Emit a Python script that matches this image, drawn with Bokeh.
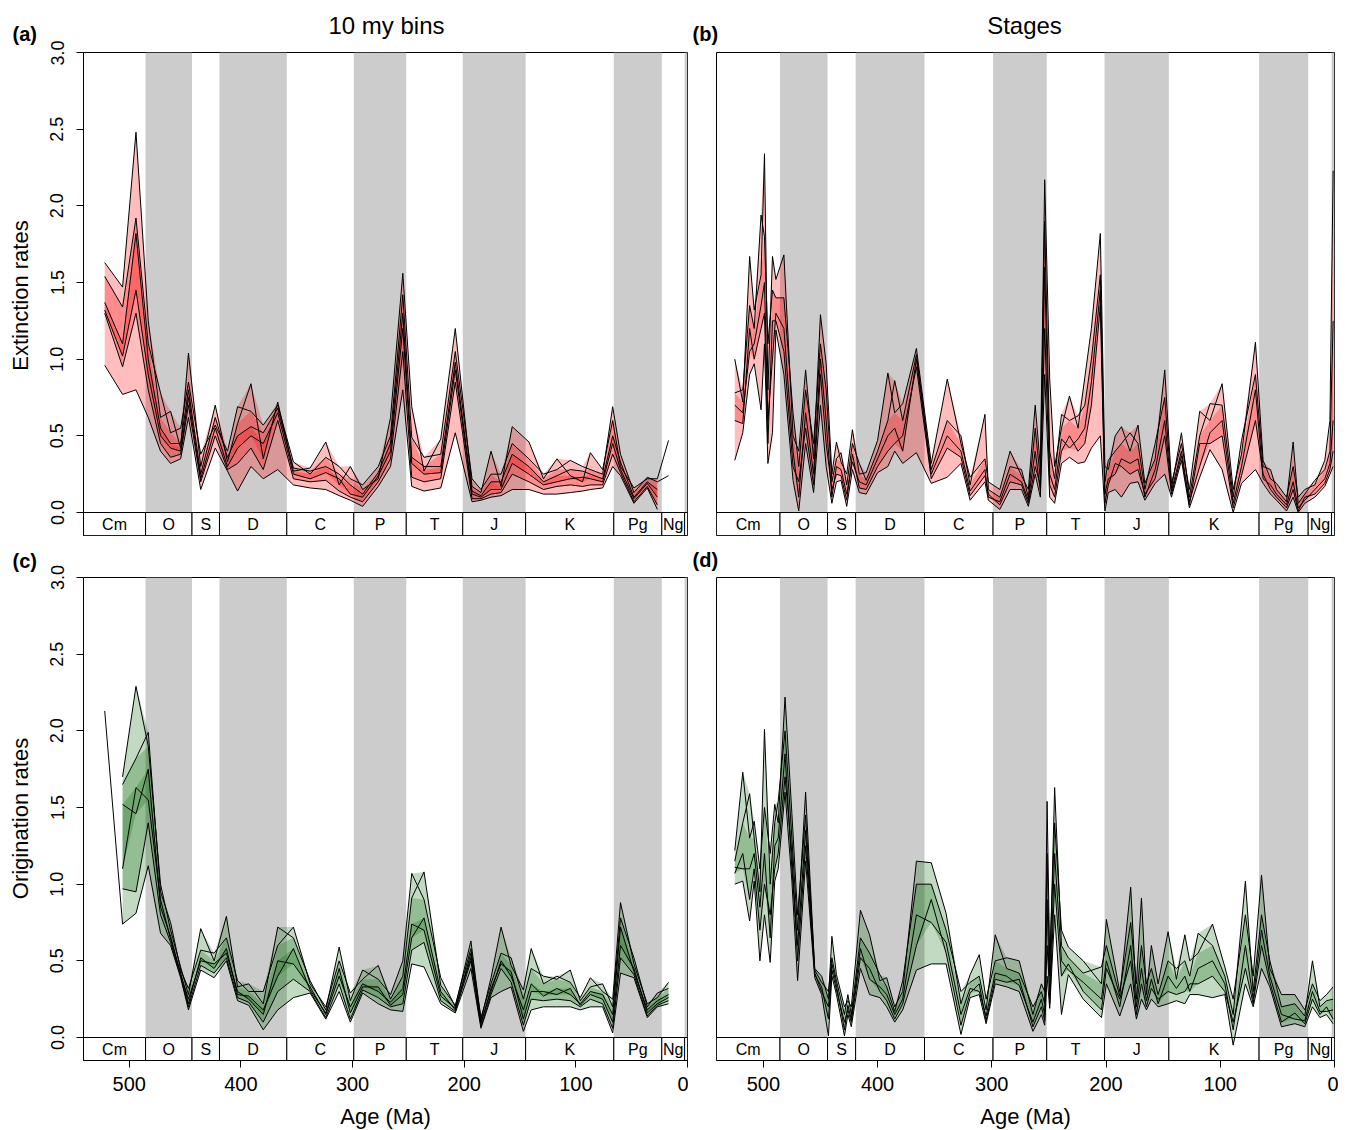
import numpy as np
from bokeh.plotting import figure
from bokeh.models import Range1d, FixedTicker, PrintfTickFormatter
from bokeh.layouts import row, column
from bokeh.core.properties import value
from bokeh.embed import file_html
from bokeh.resources import INLINE

FONT = "Liberation Sans"
nan = float("nan")

# ---------------- geological periods ----------------
period_names = ["Cm", "O", "S", "D", "C", "P", "T", "J", "K", "Pg", "Ng", ""]
period_start = [541.0, 485.4, 443.8, 419.2, 358.9, 298.9, 251.9, 201.3, 145.0, 66.0, 23.03, 2.58]
period_end = [485.4, 443.8, 419.2, 358.9, 298.9, 251.9, 201.3, 145.0, 66.0, 23.03, 2.58, 0.0]
period_shaded = [False, True, False, True, False, True, False, True, False, True, False, True]

y_ticks = [0.0, 0.5, 1.0, 1.5, 2.0, 2.5, 3.0]
x_ticks = [500, 400, 300, 200, 100, 0]

# ---------------- (a) extinction, 10 my bins ----------------
ext_bins_age = [522, 506, 494, 483, 472, 463, 454, 447, 436, 423, 412, 403, 391, 380, 367, 353, 338, 324, 312, 302,
                291, 277, 266, 255, 247, 236, 221, 208, 193, 185, 176, 167, 157, 142, 129, 117, 105, 94, 87, 76,
                67, 60, 48, 36, 27, 17]
ext_bins_r1 = [1.63, 1.47, 2.48, 1.25, 0.62, 0.66, 0.42, 1.04, 0.30, 0.70, 0.33, 0.58, 0.84, 0.35, 0.72, 0.27, 0.29, 0.46, 0.18, 0.30,
               0.15, 0.22, 0.62, 1.56, 0.69, 0.27, 0.48, 1.20, 0.17, 0.13, 0.40, 0.17, 0.56, 0.46, 0.22, 0.35, 0.24, 0.20, 0.39, 0.28,
               0.60, 0.30, 0.16, 0.22, 0.22, 0.47]
ext_bins_r2 = [1.54, 1.34, 1.92, 1.10, 0.78, 0.52, 0.55, 0.85, 0.38, 0.57, 0.40, 0.69, 0.66, 0.57, 0.70, 0.33, 0.25, 0.36, 0.30, 0.22,
               0.18, 0.30, 0.50, 1.42, 0.49, 0.36, 0.38, 1.05, 0.22, 0.15, 0.25, 0.25, 0.45, 0.35, 0.25, 0.28, 0.34, 0.30, 0.28, 0.25,
               0.69, 0.38, 0.13, 0.23, 0.20, 0.24]
ext_bins_r3 = [1.37, 1.10, 1.82, 1.00, 0.55, 0.45, 0.45, 0.80, 0.25, 0.62, 0.36, 0.50, 0.56, 0.52, 0.68, 0.29, 0.27, 0.30, 0.25, 0.18,
               0.12, 0.26, 0.45, 1.30, 0.36, 0.30, 0.30, 0.98, 0.14, 0.11, 0.20, 0.20, 0.38, 0.30, 0.20, 0.24, 0.28, 0.27, 0.25, 0.22,
               0.50, 0.33, 0.10, 0.20, 0.15, nan]
ext_bins_r4 = [1.32, 1.02, 1.45, 0.90, 0.50, 0.42, 0.40, 0.75, 0.22, 0.55, 0.30, 0.42, 0.50, 0.45, 0.65, 0.25, 0.22, 0.26, 0.22, 0.12,
               0.10, 0.24, 0.40, 1.20, 0.32, 0.25, 0.26, 0.93, 0.12, 0.10, 0.15, 0.15, 0.32, 0.25, 0.18, 0.20, 0.22, 0.23, 0.22, 0.20,
               0.45, 0.28, 0.09, 0.19, 0.10, nan]
ext_bins_r5 = [1.30, 0.95, 1.30, 0.80, 0.45, 0.36, 0.38, 0.70, 0.20, 0.50, 0.28, 0.32, 0.42, 0.28, 0.60, 0.22, 0.20, 0.21, 0.14, 0.10,
               0.07, 0.20, 0.35, 1.05, 0.23, 0.20, 0.22, 0.85, 0.09, 0.09, 0.12, 0.13, 0.25, 0.20, 0.15, 0.17, 0.18, 0.17, 0.18, 0.18,
               0.38, 0.26, 0.07, 0.17, 0.05, nan]
ext_bins_r6 = [0.96, 0.77, 0.80, 0.62, 0.40, 0.32, 0.35, 0.62, 0.15, 0.42, 0.27, 0.14, 0.30, 0.22, 0.28, 0.18, 0.16, 0.15, 0.11, 0.08,
               0.04, 0.17, 0.30, 0.80, 0.17, 0.14, 0.16, 0.52, 0.07, 0.08, 0.10, 0.11, 0.15, 0.15, 0.12, 0.12, 0.13, 0.14, 0.15, 0.16,
               0.30, 0.24, 0.06, 0.16, 0.02, nan]

# ---------------- (c) origination, 10 my bins ----------------
ori_bins_age = [522, 506, 494, 483, 472, 463, 454, 447, 436, 424, 413, 403, 393, 380, 367, 353, 338, 324, 312, 302,
                291, 277, 266, 255, 247, 236, 221, 208, 194, 185, 176, 167, 158, 147, 140, 129, 117, 105, 96, 87,
                76, 67, 60, 48, 36, 27, 17]
ori_bins_r1 = [nan, 1.70, 2.29, 1.90, 1.00, 0.70, 0.46, 0.28, 0.71, 0.50, 0.79, 0.33, 0.35, 0.22, 0.72, 0.65, 0.37, 0.18, 0.59, 0.24,
               0.44, 0.38, 0.28, 0.50, 1.07, 0.90, 0.39, 0.20, 0.63, 0.11, 0.39, 0.72, 0.47, 0.31, 0.58, 0.35, 0.40, 0.36, 0.26, 0.39,
               0.30, 0.25, 0.88, 0.48, 0.22, 0.26, 0.36]
ori_bins_r2 = [nan, 1.65, 1.82, 1.99, 0.95, 0.75, 0.44, 0.32, 0.57, 0.55, 0.65, 0.37, 0.30, 0.30, 0.60, 0.72, 0.35, 0.20, 0.50, 0.29,
               0.38, 0.47, 0.25, 0.40, 0.91, 1.08, 0.34, 0.21, 0.58, 0.13, 0.35, 0.55, 0.52, 0.25, 0.45, 0.40, 0.38, 0.44, 0.24, 0.33,
               0.35, 0.20, 0.78, 0.52, 0.20, 0.29, 0.32]
ori_bins_r3 = [nan, 1.52, 1.46, 1.75, 0.85, 0.66, 0.41, 0.25, 0.50, 0.48, 0.55, 0.30, 0.25, 0.15, 0.50, 0.48, 0.33, 0.15, 0.40, 0.20,
               0.35, 0.30, 0.23, 0.32, 0.74, 0.70, 0.27, 0.19, 0.52, 0.10, 0.30, 0.50, 0.40, 0.18, 0.35, 0.27, 0.32, 0.28, 0.22, 0.30,
               0.28, 0.15, 0.72, 0.43, 0.18, 0.24, 0.28]
ori_bins_r4 = [nan, 1.10, 1.63, 1.55, 0.90, 0.64, 0.42, 0.22, 0.52, 0.45, 0.58, 0.28, 0.27, 0.18, 0.40, 0.58, 0.31, 0.16, 0.45, 0.16,
               0.33, 0.33, 0.21, 0.28, 0.65, 0.78, 0.30, 0.18, 0.55, 0.09, 0.32, 0.48, 0.43, 0.12, 0.30, 0.30, 0.28, 0.32, 0.21, 0.28,
               0.25, 0.10, 0.60, 0.45, 0.16, 0.22, 0.26]
ori_bins_r5 = [nan, 0.97, 0.95, 1.40, 0.80, 0.62, 0.40, 0.20, 0.47, 0.42, 0.52, 0.26, 0.23, 0.10, 0.30, 0.38, 0.30, 0.13, 0.35, 0.12,
               0.31, 0.26, 0.20, 0.22, 0.57, 0.62, 0.24, 0.17, 0.50, 0.07, 0.28, 0.45, 0.36, 0.08, 0.25, 0.24, 0.25, 0.24, 0.20, 0.25,
               0.22, 0.06, 0.52, 0.41, 0.14, 0.21, 0.24]
ori_bins_r6 = [2.13, 0.74, 0.81, 1.12, 0.68, 0.60, 0.39, 0.18, 0.44, 0.39, 0.50, 0.24, 0.21, 0.05, 0.18, 0.26, 0.29, 0.12, 0.30, 0.10,
               0.29, 0.22, 0.18, 0.17, 0.48, 0.46, 0.22, 0.16, 0.45, 0.06, 0.26, 0.30, 0.33, 0.04, 0.18, 0.20, 0.20, 0.20, 0.18, 0.20,
               0.20, 0.03, 0.42, 0.39, 0.13, 0.20, 0.22]

# ---------------- (b) extinction, stages ----------------
ext_stage_age = [525, 518, 512, 508, 502, 499, 496, 492, 489, 482, 474, 469, 463, 456, 450, 445, 440, 436, 432, 427,
                 422, 416, 410, 400, 391, 385, 378, 366, 353, 339, 327, 319, 306, 303, 293, 284, 274, 268, 262, 257.5,
                 253.7, 249.3, 245, 239, 232, 224.5, 218.6, 212.8, 205, 201, 198, 192, 186.5, 179, 172, 166, 157, 148.6, 142.7, 134,
                 127, 118, 109, 98.4, 88.7, 81.4, 69.2, 62.5, 56, 50.8, 42, 36.2, 31.8, 26, 17.2, 8.5, 4, 1.2]
ext_stage_r1 = [1.00, 0.72, 1.67, 1.32, 1.55, 2.34, 0.80, 1.67, 1.52, 1.68,
                0.50, 0.40, 0.93, 0.35, 1.29, 0.97, 0.25, 0.46, 0.33, 0.25,
                0.54, 0.25, 0.26, 0.47, 0.91, 0.65, 0.71, 1.07, 0.32, 0.87,
                0.45, 0.23, 0.35, 0.20, 0.15, 0.40, 0.24, 0.15, 0.70, 0.30,
                2.17, 0.87, 0.30, 0.55, 0.76, 0.55, 0.88, 1.20, 1.82, 0.30,
                0.28, 0.50, 0.56, 0.40, 0.57, 0.19, 0.35, 0.93, 0.19, 0.45,
                0.15, 0.66, 0.60, 0.84, 0.15, 0.38, 1.11, 0.34, 0.22, 0.19,
                0.10, 0.30, 0.10, 0.15, 0.18, 0.34, 0.60, 2.23]
ext_stage_r2 = [0.78, 0.80, 1.35, 1.20, 1.94, 1.80, 1.10, 1.45, 1.40, 1.40,
                0.65, 0.30, 0.80, 0.45, 1.10, 0.80, 0.20, 0.35, 0.39, 0.18,
                0.45, 0.32, 0.21, 0.40, 0.60, 0.86, 0.60, 1.03, 0.28, 0.60,
                0.50, 0.18, 0.64, 0.15, 0.10, 0.30, 0.28, 0.10, 0.55, 0.22,
                1.90, 0.40, 0.22, 0.64, 0.60, 0.63, 0.70, 1.00, 1.55, 0.20,
                0.34, 0.40, 0.45, 0.52, 0.45, 0.15, 0.45, 0.75, 0.16, 0.52,
                0.10, 0.50, 0.71, 0.70, 0.10, 0.47, 0.90, 0.30, 0.28, 0.15,
                0.07, 0.46, 0.06, 0.12, 0.21, 0.28, 0.40, 1.25]
ext_stage_r3 = [0.70, 0.65, 1.05, 1.10, 1.35, 1.50, 0.60, 1.00, 1.30, 1.20,
                0.40, 0.10, 0.65, 0.25, 1.00, 0.60, 0.10, 0.30, 0.28, 0.12,
                0.33, 0.20, 0.18, 0.35, 0.50, 0.55, 0.40, 1.00, 0.25, 0.50,
                0.40, 0.14, 0.28, 0.10, 0.07, 0.25, 0.20, 0.08, 0.40, 0.14,
                1.60, 0.25, 0.15, 0.48, 0.42, 0.48, 0.55, 0.85, 1.45, 0.12,
                0.22, 0.25, 0.35, 0.32, 0.35, 0.10, 0.28, 0.60, 0.14, 0.40,
                0.07, 0.30, 0.52, 0.60, 0.06, 0.30, 0.80, 0.22, 0.18, 0.12,
                0.05, 0.20, 0.03, 0.08, 0.15, 0.22, 0.32, 0.60]
ext_stage_r4 = [0.60, 0.58, 1.20, 1.00, 1.20, 1.30, 0.45, 1.25, 1.25, 1.05,
                0.30, 0.20, 0.55, 0.18, 0.90, 0.45, 0.15, 0.25, 0.24, 0.08,
                0.38, 0.16, 0.15, 0.30, 0.40, 0.45, 0.50, 0.95, 0.22, 0.42,
                0.36, 0.11, 0.24, 0.12, 0.05, 0.20, 0.18, 0.06, 0.30, 0.18,
                1.20, 0.18, 0.10, 0.40, 0.50, 0.40, 0.45, 0.70, 1.35, 0.06,
                0.18, 0.32, 0.30, 0.25, 0.28, 0.12, 0.22, 0.50, 0.12, 0.37,
                0.05, 0.45, 0.45, 0.50, 0.03, 0.24, 0.60, 0.25, 0.15, 0.10,
                0.03, 0.15, 0.01, 0.10, 0.12, 0.19, 0.28, 0.40]
ext_stage_r5 = [0.34, 0.52, 0.90, 0.97, 0.67, 1.10, 0.32, 0.52, 1.19, 0.90,
                0.21, 0.01, 0.45, 0.13, 0.70, 0.30, 0.06, 0.20, 0.21, 0.04,
                0.28, 0.13, 0.12, 0.26, 0.30, 0.40, 0.32, 0.39, 0.19, 0.23,
                0.32, 0.08, 0.20, 0.08, 0.02, 0.15, 0.15, 0.04, 0.25, 0.10,
                0.90, 0.10, 0.06, 0.32, 0.36, 0.32, 0.33, 0.42, 0.50, 0.01,
                0.13, 0.15, 0.10, 0.19, 0.20, 0.08, 0.19, 0.25, 0.10, 0.34,
                0.03, 0.23, 0.41, 0.28, 0.00, 0.19, 0.28, 0.19, 0.12, 0.08,
                0.01, 0.10, 0.00, 0.06, 0.10, 0.17, 0.25, 0.30]

# ---------------- (d) origination, stages ----------------
ori_stage_age = [525, 518, 512, 508, 503, 499, 494, 490, 487, 481, 475, 470, 463, 455, 449, 443, 440, 436, 429, 426,
                 423, 415, 407, 398, 392, 385, 378, 366, 353, 340, 327, 319, 311, 305, 297, 287, 276, 264, 256.6, 253.7,
                 251.6, 249.3, 245, 239, 233, 220, 204, 199.7, 188, 178.4, 173.4, 169, 164.6, 160.3, 154.4, 145.7, 138.4, 131, 126.7, 119.4,
                 106.8, 96, 88.7, 78, 71.2, 63.9, 56.6, 46.4, 34.7, 26, 19.3, 12.8, 7, 1.2]
ori_stage_r1 = [1.22, 1.73, 1.30, 1.41, 1.10, 1.50, 1.20, 1.52, 1.40, 2.22,
                1.46, 0.80, 1.45, 0.45, 0.40, 0.25, 0.66, 0.41, 0.20, 0.24,
                0.20, 0.83, 0.67, 0.37, 0.39, 0.20, 0.30, 1.15, 1.14, 0.81,
                0.22, 0.41, 0.54, 0.25, 0.50, 0.52, 0.50, 0.15, 0.35, 0.30,
                1.54, 0.50, 1.40, 0.70, 0.59, 0.50, 0.35, 0.77, 0.30, 0.75,
                0.35, 0.91, 0.28, 0.60, 0.35, 0.69, 0.38, 0.67, 0.50, 0.55,
                0.74, 0.46, 0.25, 0.80, 0.40, 1.06, 0.45, 0.28, 0.28, 0.18,
                0.35, 0.24, 0.28, 0.33]
ori_stage_r2 = [1.15, 1.40, 1.59, 1.30, 0.95, 2.01, 1.00, 1.40, 1.54, 2.00,
                1.30, 0.70, 1.60, 0.44, 0.36, 0.30, 0.52, 0.37, 0.15, 0.28,
                0.15, 0.65, 0.55, 0.41, 0.33, 0.17, 0.37, 1.00, 1.00, 0.70,
                0.30, 0.36, 0.40, 0.18, 0.67, 0.45, 0.42, 0.20, 0.30, 0.22,
                1.20, 0.40, 1.63, 0.60, 0.52, 0.42, 0.46, 0.60, 0.27, 0.98,
                0.25, 0.60, 0.35, 0.45, 0.28, 0.50, 0.45, 0.50, 0.40, 0.68,
                0.60, 0.40, 0.15, 1.02, 0.30, 0.80, 0.50, 0.20, 0.22, 0.14,
                0.50, 0.20, 0.24, 0.25]
ori_stage_r3 = [1.11, 1.10, 1.10, 1.20, 0.85, 1.20, 0.65, 1.25, 1.30, 1.85,
                1.10, 0.60, 1.35, 0.42, 0.30, 0.20, 0.48, 0.34, 0.05, 0.21,
                0.12, 0.58, 0.38, 0.33, 0.28, 0.15, 0.25, 0.80, 0.75, 0.62,
                0.15, 0.32, 0.30, 0.14, 0.42, 0.40, 0.34, 0.10, 0.25, 0.15,
                0.60, 0.30, 1.20, 0.50, 0.44, 0.36, 0.25, 0.50, 0.20, 0.60,
                0.20, 0.45, 0.24, 0.38, 0.22, 0.40, 0.32, 0.40, 0.30, 0.45,
                0.50, 0.35, 0.05, 0.60, 0.25, 0.70, 0.40, 0.15, 0.12, 0.11,
                0.30, 0.17, 0.17, 0.18]
ori_stage_r4 = [1.07, 1.20, 0.90, 1.10, 0.70, 1.00, 0.80, 1.10, 1.20, 1.70,
                1.20, 0.50, 1.25, 0.41, 0.33, 0.12, 0.44, 0.31, 0.10, 0.18,
                0.10, 0.52, 0.45, 0.30, 0.24, 0.12, 0.22, 0.60, 0.90, 0.55,
                0.08, 0.29, 0.35, 0.11, 0.38, 0.36, 0.38, 0.07, 0.20, 0.11,
                0.90, 0.22, 1.00, 0.40, 0.48, 0.30, 0.18, 0.45, 0.25, 0.50,
                0.15, 0.35, 0.20, 0.32, 0.25, 0.30, 0.28, 0.30, 0.35, 0.35,
                0.40, 0.30, 0.10, 0.45, 0.22, 0.60, 0.36, 0.10, 0.16, 0.09,
                0.25, 0.15, 0.20, 0.12]
ori_stage_r5 = [1.00, 1.02, 0.76, 1.02, 0.50, 0.80, 0.49, 1.02, 1.10, 1.60,
                1.02, 0.37, 1.15, 0.39, 0.28, 0.01, 0.40, 0.28, 0.01, 0.15,
                0.07, 0.45, 0.28, 0.26, 0.20, 0.10, 0.18, 0.44, 0.48, 0.48,
                0.02, 0.26, 0.28, 0.09, 0.35, 0.33, 0.30, 0.04, 0.15, 0.08,
                0.40, 0.19, 0.80, 0.15, 0.41, 0.25, 0.13, 0.35, 0.14, 0.35,
                0.12, 0.25, 0.18, 0.25, 0.20, 0.22, 0.24, 0.22, 0.28, 0.28,
                0.26, 0.28, -0.05, 0.35, 0.20, 0.45, 0.33, 0.07, 0.09, 0.07,
                0.20, 0.13, 0.15, 0.09]

RED = "#ff0000"
GREEN = "#006400"


def make_panel(ages, lines, color, alpha, frame_w, bl, br, bt, bb, show_y, show_x):
    p = figure(frame_width=frame_w, frame_height=483,
               x_range=Range1d(541, 0), y_range=Range1d(-0.15, 3.0),
               output_backend="svg", toolbar_location=None,
               min_border_left=bl, min_border_right=br, min_border_top=bt, min_border_bottom=bb,
               x_axis_location="below" if show_x else None,
               y_axis_location="left" if show_y else None)
    p.grid.visible = False
    p.outline_line_color = "black"
    p.outline_line_width = 1
    p.background_fill_color = "white"
    p.border_fill_color = "white"

    # shaded periods
    gs = [s for s, f in zip(period_start, period_shaded) if f]
    ge = [e for e, f in zip(period_end, period_shaded) if f]
    p.quad(left=gs, right=ge, bottom=0, top=3.0, fill_color="#cccccc", line_color=None)

    # period strip
    mids = [(s + e) / 2 for s, e in zip(period_start, period_end)]
    p.quad(left=period_start, right=period_end, bottom=-0.15, top=0.0,
           fill_color="white", line_color="black", line_width=1)
    p.text(x=mids, y=[-0.075] * len(mids), text=period_names, text_align="center",
           text_baseline="middle", text_font=value(FONT), text_font_size="16px", text_color="black")

    # envelopes from the replicate lines
    arr = np.array(lines, dtype=float)
    ag = np.array(ages, dtype=float)
    mask = np.all(np.isfinite(arr), axis=0)
    srt = np.sort(arr[:, mask], axis=0)
    n = srt.shape[0]
    for k in range(n // 2):
        p.varea(x=ag[mask], y1=srt[k], y2=srt[n - 1 - k], fill_color=color, fill_alpha=alpha)

    for ln in lines:
        p.line(ages, ln, line_color="black", line_width=1.0)

    if show_y:
        ax = p.yaxis[0]
        ax.ticker = FixedTicker(ticks=y_ticks)
        ax.formatter = PrintfTickFormatter(format="%.1f")
        ax.major_label_orientation = "vertical"
        ax.major_tick_out = 7
        ax.major_tick_in = 0
        ax.minor_tick_line_color = None
        ax.axis_line_color = "black"
        ax.major_label_text_font = FONT
        ax.major_label_text_font_size = "18px"
        ax.major_label_text_color = "black"
        ax.major_label_standoff = 13
    if show_x:
        ax = p.xaxis[0]
        ax.ticker = FixedTicker(ticks=x_ticks)
        ax.major_tick_out = 7
        ax.major_tick_in = 0
        ax.minor_tick_line_color = None
        ax.axis_line_color = "black"
        ax.major_label_text_font = FONT
        ax.major_label_text_font_size = "20px"
        ax.major_label_text_color = "black"
        ax.major_label_standoff = 9
        ax.axis_label = "Age (Ma)"
        ax.axis_label_text_font = FONT
        ax.axis_label_text_font_size = "22px"
        ax.axis_label_text_font_style = "normal"
        ax.axis_label_text_color = "black"
        ax.axis_label_standoff = 10
    return p


def blank(w, h):
    p = figure(width=w, height=h, x_range=Range1d(0, w), y_range=Range1d(0, h),
               output_backend="svg", toolbar_location=None, min_border=0,
               x_axis_location=None, y_axis_location=None)
    p.grid.visible = False
    p.outline_line_color = None
    p.background_fill_color = "white"
    p.border_fill_color = "white"
    return p


def put(p, x, y, txt, size, style="normal", align="left", angle=0.0):
    p.text(x=[x], y=[y], text=[txt], text_align=align, text_baseline="middle", angle=angle,
           text_font=value(FONT), text_font_size=size, text_font_style=style, text_color="black")


# ---- top-left: (a) ----
tl = blank(38, 543)
put(tl, 12, 543 - 33, "(a)", "20px", style="bold")
put(tl, 20, 543 - 295, "Extinction rates", "22px", align="center", angle=np.pi / 2)
ha = blank(650, 40)
put(ha, 386 - 38, 40 - 25, "10 my bins", "24px", align="center")
pa = make_panel(ext_bins_age, [ext_bins_r1, ext_bins_r2, ext_bins_r3, ext_bins_r4, ext_bins_r5, ext_bins_r6],
                RED, 0.26, 604, 45, 1, 12, 8, True, False)
top_left = row(tl, column(ha, row(pa)))

# ---- top-right: (b) ----
hr = blank(650, 46)
put(hr, 4, 46 - 33, "(b)", "20px", style="bold")
put(hr, 1024 - 688, 46 - 25, "Stages", "24px", align="center")
pb = make_panel(ext_stage_age, [ext_stage_r1, ext_stage_r2, ext_stage_r3, ext_stage_r4, ext_stage_r5],
                RED, 0.26, 618, 28, 4, 6, 8, False, False)
top_right = column(hr, row(pb))

# ---- bottom-left: (c) ----
tc = blank(38, 586)
put(tc, 12, 586 - 17, "(c)", "20px", style="bold")
put(tc, 20, 586 - 275, "Origination rates", "22px", align="center", angle=np.pi / 2)
pc = make_panel(ori_bins_age, [ori_bins_r1, ori_bins_r2, ori_bins_r3, ori_bins_r4, ori_bins_r5, ori_bins_r6],
                GREEN, 0.24, 604, 45, 1, 34, 69, True, True)
bottom_left = row(tc, column(pc))

# ---- bottom-right: (d) ----
hd = blank(650, 28)
put(hd, 4, 28 - 16, "(d)", "20px", style="bold")
pd_ = make_panel(ori_stage_age, [ori_stage_r1, ori_stage_r2, ori_stage_r3, ori_stage_r4, ori_stage_r5],
                 GREEN, 0.24, 618, 28, 4, 6, 69, False, True)
bottom_right = column(hd, row(pd_))

layout = column(row(top_left, top_right), row(bottom_left, bottom_right))

with open("out.html", "w") as f:
    f.write(file_html(layout, INLINE))
